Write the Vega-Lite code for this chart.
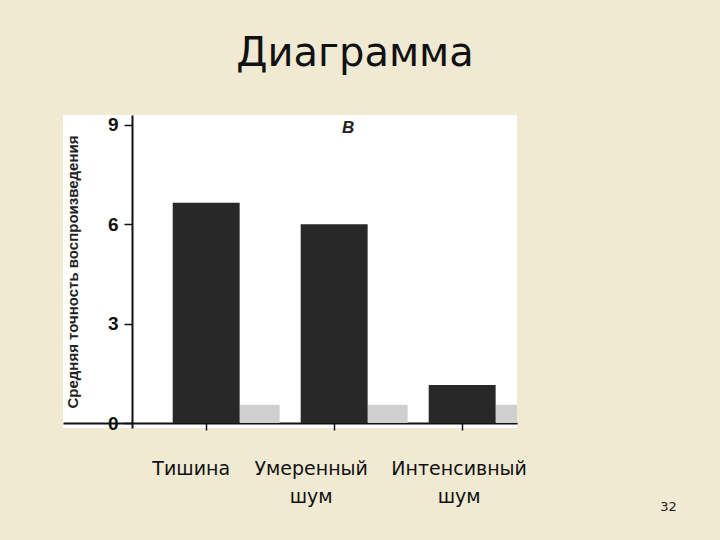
{
  "$schema": "https://vega.github.io/schema/vega-lite/v6.json",
  "autosize": {"type": "none"},
  "padding": {"left": 63, "top": 115, "right": 203, "bottom": 112},
  "width": 454,
  "height": 313,
  "background": "#F1EAD3",
  "view": {"fill": "white", "stroke": null},
  "title": {
    "text": "Диаграмма",
    "font": "DejaVu Sans",
    "fontSize": 40,
    "fontWeight": "normal",
    "color": "#111111",
    "anchor": "middle",
    "frame": "group",
    "baseline": "alphabetic",
    "offset": 9,
    "dx": 65
  },
  "data": {
    "values": [
      {"условие": "Тишина", "точность": 6.65, "тень": 0.55},
      {"условие": "Умеренный шум", "точность": 6.0, "тень": 0.55},
      {"условие": "Интенсивный шум", "точность": 1.15, "тень": 0.55}
    ]
  },
  "encoding": {
    "x": {
      "field": "условие",
      "type": "nominal",
      "sort": null,
      "scale": {"paddingInner": 0.477, "paddingOuter": 0.512, "align": 0.837},
      "axis": {
        "title": "32",
        "titleFont": "DejaVu Sans",
        "titleFontSize": 13,
        "titleFontWeight": "normal",
        "titleColor": "#222222",
        "titleX": 605,
        "titleY": 87,
        "titleAlign": "center",
        "titleBaseline": "alphabetic",
        "offset": -5,
        "domainColor": "#111111",
        "domainWidth": 2,
        "tickColor": "#111111",
        "tickWidth": 1.5,
        "tickSize": 7,
        "labelAngle": 0,
        "labelExpr": "split(datum.label, ' ')",
        "labelFont": "DejaVu Sans",
        "labelFontSize": 19,
        "labelColor": "#111111",
        "labelPadding": 29,
        "labelLineHeight": 28,
        "labelOffset": {
          "condition": [
            {"test": "datum.value == 'Умеренный шум'", "value": -23},
            {"test": "datum.value == 'Интенсивный шум'", "value": -3}
          ],
          "value": -15
        },
        "labelBaseline": "top"
      }
    }
  },
  "layer": [
    {
      "mark": {"type": "bar", "width": 40, "xOffset": 53.5, "color": "#cfcfcf", "clip": true},
      "encoding": {
        "y": {"field": "тень", "type": "quantitative"},
        "y2": {"datum": 0}
      }
    },
    {
      "mark": {"type": "bar", "color": "#282828"},
      "encoding": {
        "y": {
          "field": "точность",
          "type": "quantitative",
          "scale": {"domain": [-0.15, 9.3], "nice": false, "zero": false},
          "axis": {
            "title": "Средняя точность воспроизведения",
            "titleFont": "Liberation Sans",
            "titleFontSize": 15,
            "titleFontWeight": "bold",
            "titleColor": "#222222",
            "titlePadding": 27,
            "offset": -69,
            "values": [0, 3, 6, 9],
            "grid": false,
            "domainColor": "#111111",
            "domainWidth": 2,
            "tickColor": "#111111",
            "tickWidth": 1.5,
            "tickSize": 8,
            "labelFont": "Liberation Sans",
            "labelFontSize": 19,
            "labelFontWeight": "bold",
            "labelColor": "#111111",
            "labelPadding": 6
          }
        },
        "y2": {"datum": 0}
      }
    },
    {
      "data": {"values": [{"метка": "В", "условие": "Умеренный шум", "высота": 8.91}]},
      "mark": {"type": "text", "font": "Liberation Sans", "fontSize": 17, "fontWeight": "bold", "fontStyle": "italic", "color": "#222222", "dx": 14},
      "encoding": {
        "text": {"field": "метка"},
        "y": {"field": "высота", "type": "quantitative"}
      }
    }
  ]
}
